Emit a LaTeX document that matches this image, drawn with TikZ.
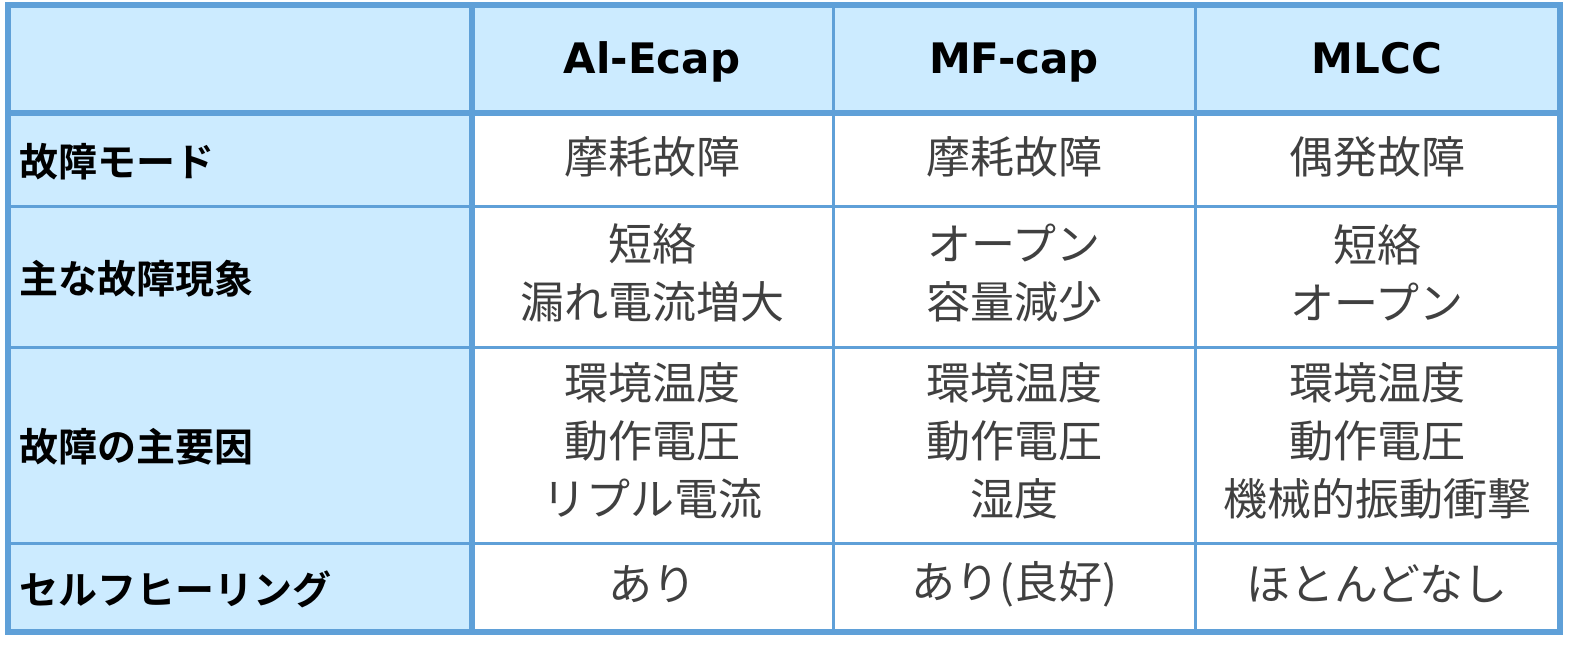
\documentclass[tikz,border=0pt]{standalone}
\usepackage{fontspec}
\setmainfont{Noto Sans CJK JP}
\newfontfamily\cjkbold{Noto Sans CJK JP Bold}
\newfontfamily\headfont{DejaVu Sans Bold}
\definecolor{gridblue}{HTML}{5FA0D8}
\definecolor{headfill}{HTML}{CCEBFF}
\definecolor{bodytext}{HTML}{404040}
\begin{document}
\begin{tikzpicture}[x=1pt,y=-1pt,
    head/.style={font=\headfont\fontsize{42}{48}\selectfont,text=black},
    rowlabel/.style={font=\cjkbold\fontsize{39}{44}\selectfont,text=black,anchor=west},
    cell/.style={font=\fontsize{44}{58}\selectfont,text=bodytext,align=center},
    thinline/.style={gridblue,line width=3pt},
    thickline/.style={gridblue,line width=6pt}]
  % backgrounds
  \fill[headfill] (8,5) rectangle (1560,113);
  \fill[headfill] (8,113) rectangle (472,632);
  \fill[white] (472,113) rectangle (1560,632);
  % grid
  \foreach \y in {207,347,543} \draw[thinline] (8,\y) -- (1560,\y);
  \foreach \x in {833,1195} \draw[thinline] (\x,5) -- (\x,632);
  \draw[thickline] (8,113) -- (1560,113);
  \draw[thickline] (472,5) -- (472,632);
  \draw[thickline] (8,5) rectangle (1560,632);
  % header
  \node[head,anchor=base] (h1) at (652,74) {Al-Ecap};
  \node[head,anchor=base] (h2) at (1014,74) {MF-cap};
  \node[head,anchor=base] (h3) at (1377,74) {MLCC};
  % row labels
  \node[rowlabel] (r1) at (16,162) {故障モード};
  \node[rowlabel] (r2) at (16,279) {主な故障現象};
  \node[rowlabel] (r3) at (16,447) {故障の主要因};
  \node[rowlabel] (r4) at (16,589) {セルフヒーリング};
  % body
  \node[cell] (c11) at (652,157) {摩耗故障};
  \node[cell] (c12) at (1014,157) {摩耗故障};
  \node[cell] (c13) at (1377,157) {偶発故障};
  \node[cell] (c21) at (652,273) {短絡\\漏れ電流増大};
  \node[cell] (c22) at (1014,273) {オープン\\容量減少};
  \node[cell] (c23) at (1377,273) {短絡\\オープン};
  \node[cell] (c31) at (652,441) {環境温度\\動作電圧\\リプル電流};
  \node[cell] (c32) at (1014,441) {環境温度\\動作電圧\\湿度};
  \node[cell] (c33) at (1377,441) {環境温度\\動作電圧\\機械的振動衝撃};
  \node[cell] (c41) at (652,584) {あり};
  \node[cell] (c42) at (1014,584) {あり(良好)};
  \node[cell] (c43) at (1377,584) {ほとんどなし};
  \pgfresetboundingbox
  \useasboundingbox (0,0) rectangle (1595,660);
\end{tikzpicture}
\end{document}
